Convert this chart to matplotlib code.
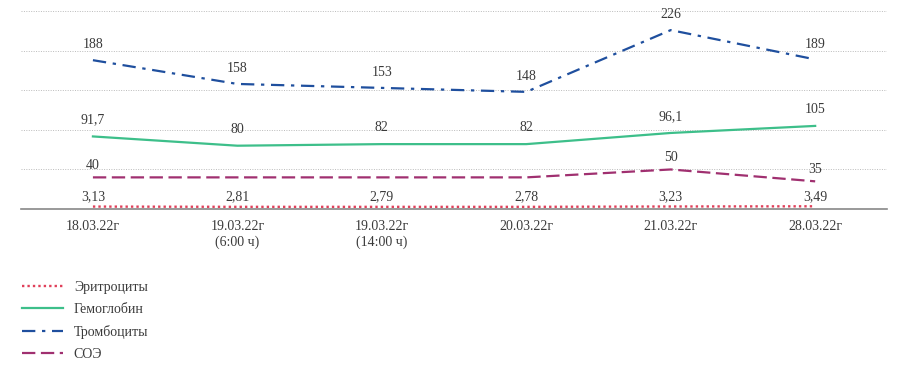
import matplotlib
matplotlib.use('Agg')
import matplotlib.pyplot as plt
import numpy as np

dates = ['18.03.22г', '19.03.22г\n(6:00 ч)', '19.03.22г\n(14:00 ч)',
         '20.03.22г', '21.03.22г', '28.03.22г']
eritr = [3.13, 2.81, 2.79, 2.78, 3.23, 3.49]
gemogl = [91.7, 80, 82, 82, 96.1, 105]
tromb = [188, 158, 153, 148, 226, 189]
soe = [40, 40, 40, 40, 50, 35]
# подписи СОЭ показаны не у всех точек
soe_show = [True, False, False, False, True, True]

plt.rcParams['font.family'] = ['Liberation Serif', 'DejaVu Serif']

fig = plt.figure(figsize=(9, 3.7), dpi=100, facecolor='white')
ax = fig.add_axes([0.023, 0.435, 0.963, 0.535])

x = np.arange(len(dates))
series = [
    ('Эритроциты', eritr, '#e0405a', (0, (1, 1.3)), 1.7, 7, '%.2f', None),
    ('Гемоглобин', gemogl, '#3dbf8a', '-', 1.6, 12, '%g', None),
    ('Тромбоциты', tromb, '#1f4f9e', (0, (6, 3, 1.5, 3)), 1.6, 11, '%g', None),
    ('СОЭ', soe, '#a03070', (0, (6, 2.5)), 1.6, 8.5, '%g', soe_show),
]
for name, vals, col, ls, lw, off, fmt, show in series:
    ax.plot(x, vals, color=col, linestyle=ls, linewidth=lw, label=name)
    for i, v in enumerate(vals):
        if show is not None and not show[i]:
            continue
        txt = (fmt % v).replace('.', ',')
        ax.annotate(txt, (x[i], v), xytext=(0, off), textcoords='offset points',
                    ha='center', va='center', fontsize=10, color='#3a3a3a')

ax.set_xlim(-0.5, len(dates) - 0.5)
ax.set_ylim(0, 250)
ax.set_yticks([50, 100, 150, 200, 250])
ax.yaxis.grid(True, linestyle=(0, (1, 1.5)), color='#bbbbbb', linewidth=0.7)
ax.set_axisbelow(True)
ax.tick_params(axis='y', left=False, labelleft=False)
ax.tick_params(axis='x', length=0, pad=8, labelsize=10, colors='#3a3a3a')
ax.set_xticks(x)
ax.set_xticklabels(dates)
for s in ['top', 'right', 'left']:
    ax.spines[s].set_visible(False)
ax.spines['bottom'].set_color('#888888')
ax.spines['bottom'].set_linewidth(1.2)

fig.legend(loc='upper left', bbox_to_anchor=(0.011, 0.275), frameon=False,
           fontsize=10, labelspacing=0.65, handlelength=2.9, handletextpad=0.8,
           labelcolor='#3a3a3a')

fig.savefig('out.png', dpi=100, facecolor='white')
